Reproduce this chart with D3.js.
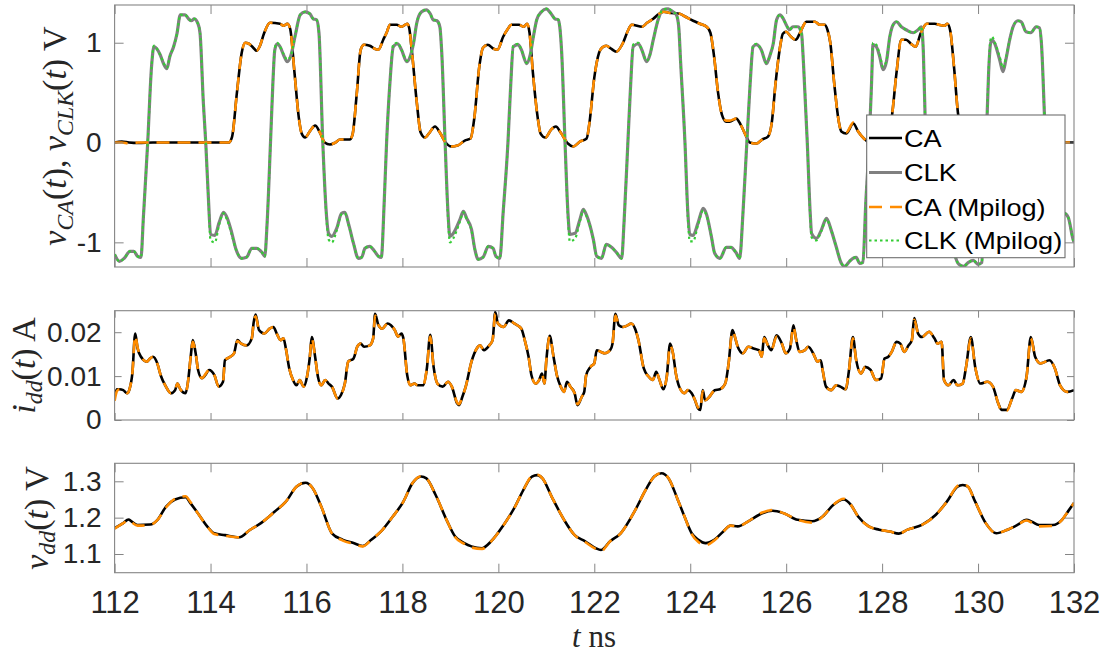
<!DOCTYPE html>
<html><head><meta charset="utf-8">
<script src="https://cdn.jsdelivr.net/npm/d3@7"></script>
<style>body{margin:0;background:#fff}</style>
</head><body><svg id="chart" width="1106" height="654"></svg>
<script>
// ---------------- DATA ----------------
const xTicks = [112,114,116,118,120,122,124,126,128,130,132];
const topTicks = [-1,0,1];
const midTicks = [0,0.01,0.02];
const botTicks = [1.1,1.2,1.3];
const legendLabels = ["CA","CLK","CA (Mpilog)","CLK (Mpilog)"];

// CA voltage (V) vs time (ns)
const caT = [112.0,112.15,112.3,112.5,112.8,113.2,113.6,114.0,114.38,114.45,
 114.55,114.65,114.72,114.8,114.89,114.96,115.03,115.12,115.24,115.45,
 115.52,115.6,115.66,115.75,115.84,115.9,115.97,116.08,116.18,116.28,
 116.38,116.49,116.6,116.7,116.9,116.96,117.05,117.13,117.2,117.32,
 117.42,117.5,117.6,117.67,117.74,117.88,117.98,118.1,118.14,118.2,
 118.3,118.38,118.47,118.55,118.68,118.78,118.9,119.02,119.15,119.3,
 119.42,119.5,119.6,119.68,119.78,119.9,119.98,120.1,120.2,120.27,
 120.43,120.53,120.6,120.65,120.72,120.82,120.88,120.98,121.1,121.2,
 121.3,121.45,121.56,121.7,121.84,121.9,122.0,122.1,122.16,122.25,
 122.35,122.46,122.6,122.7,122.78,123.0,123.1,123.23,123.35,123.45,
 123.55,123.78,123.9,124.06,124.2,124.34,124.42,124.5,124.58,124.66,
 124.75,124.82,124.96,125.05,125.17,125.24,125.38,125.5,125.62,125.7,
 125.78,125.88,125.93,126.0,126.1,126.2,126.28,126.42,126.6,126.7,
 126.8,126.86,126.92,127.0,127.1,127.15,127.25,127.4,127.5,127.62,
 127.75,127.9,128.0,128.1,128.2,128.3,128.4,128.5,128.6,128.7,
 128.8,128.93,129.1,129.18,129.3,129.36,129.42,129.5,129.58,129.66,
 129.75,129.85,129.95,130.05,130.2,130.35,130.5,130.7,131.0,131.4,
 131.8,132.0];
const caV = [0.0,0.01,0.0,-0.005,0.0,0.0,0.0,0.0,0.0,0.06,
 0.5,0.9,1.0,0.99,0.95,0.92,0.97,1.1,1.2,1.19,
 1.17,1.19,1.14,0.7,0.25,0.09,0.05,0.12,0.17,0.1,
 0.0,-0.02,0.0,0.03,0.03,0.08,0.5,0.93,0.98,0.97,
 0.94,0.93,1.03,1.1,1.18,1.18,1.16,1.19,1.15,0.9,
 0.4,0.1,0.05,0.09,0.16,0.1,0.0,-0.04,-0.03,0.02,
 0.04,0.25,0.75,0.95,0.98,0.94,0.93,1.06,1.14,1.18,
 1.18,1.16,1.19,1.1,0.7,0.25,0.09,0.05,0.13,0.16,
 0.1,-0.01,-0.04,0.01,0.04,0.2,0.65,0.9,0.95,0.97,
 0.94,0.91,1.0,1.12,1.18,1.16,1.2,1.24,1.29,1.31,
 1.3,1.29,1.26,1.22,1.19,1.16,1.1,0.85,0.5,0.28,
 0.21,0.21,0.24,0.18,0.06,0.0,-0.01,0.03,0.06,0.2,
 0.6,0.98,1.09,1.11,1.06,1.03,1.09,1.21,1.21,1.18,
 1.18,1.13,1.0,0.6,0.2,0.11,0.09,0.19,0.11,0.04,
 0.0,0.0,0.01,0.05,0.25,0.7,1.03,1.03,0.99,0.96,
 1.09,1.19,1.19,1.18,1.17,1.19,1.12,0.75,0.3,0.1,
 0.05,0.1,0.14,0.08,0.0,-0.02,0.01,0.02,0.0,0.0,
 0.0,0.0];
const caMpilogV = [0.0,0.0,-0.01,0.0,0.0,0.0,0.0,0.0,0.0,0.06,
 0.5,0.9,1.0,0.99,0.95,0.92,0.97,1.1,1.2,1.19,
 1.17,1.19,1.14,0.7,0.25,0.09,0.05,0.12,0.17,0.1,
 0.0,-0.02,0.0,0.03,0.03,0.08,0.5,0.93,0.98,0.97,
 0.94,0.93,1.03,1.1,1.18,1.18,1.16,1.19,1.15,0.9,
 0.4,0.1,0.05,0.09,0.16,0.1,0.0,-0.04,-0.03,0.02,
 0.04,0.25,0.75,0.95,0.98,0.94,0.93,1.06,1.14,1.18,
 1.18,1.16,1.19,1.1,0.7,0.25,0.09,0.05,0.13,0.16,
 0.1,-0.01,-0.04,0.01,0.04,0.2,0.65,0.9,0.95,0.97,
 0.94,0.91,1.0,1.12,1.18,1.16,1.2,1.24,1.29,1.31,
 1.3,1.29,1.26,1.22,1.19,1.16,1.1,0.85,0.5,0.28,
 0.22,0.22,0.24,0.18,0.06,0.0,-0.01,0.03,0.06,0.2,
 0.6,0.98,1.09,1.11,1.06,1.03,1.09,1.21,1.21,1.18,
 1.18,1.13,1.0,0.6,0.2,0.11,0.1,0.2,0.11,0.04,
 0.0,0.0,0.01,0.05,0.25,0.7,1.03,1.03,0.99,0.96,
 1.09,1.19,1.19,1.18,1.17,1.19,1.12,0.75,0.3,0.1,
 0.05,0.1,0.14,0.08,0.0,-0.02,0.01,0.02,0.0,0.0,
 0.0,0.0];

// CLK voltage (V) vs time (ns)
const clkT = [112.0,112.1,112.2,112.32,112.4,112.48,112.55,112.6,112.69,112.77,
 112.82,112.88,112.95,113.03,113.09,113.15,113.23,113.3,113.37,113.47,
 113.54,113.6,113.66,113.73,113.78,113.85,113.9,113.96,114.0,114.09,
 114.18,114.27,114.35,114.44,114.53,114.65,114.75,114.86,114.96,115.07,
 115.13,115.18,115.25,115.3,115.34,115.39,115.45,115.52,115.6,115.68,
 115.76,115.87,115.97,116.07,116.14,116.21,116.26,116.34,116.42,116.46,
 116.53,116.63,116.73,116.8,116.88,116.98,117.08,117.15,117.22,117.32,
 117.42,117.5,117.56,117.62,117.67,117.74,117.81,117.9,117.98,118.09,
 118.16,118.23,118.3,118.4,118.5,118.58,118.64,118.72,118.78,118.82,
 118.89,118.95,118.99,119.06,119.2,119.27,119.34,119.44,119.51,119.58,
 119.68,119.79,119.89,119.95,120.03,120.1,120.2,120.26,120.31,120.41,
 120.48,120.59,120.66,120.73,120.8,120.9,121.0,121.1,121.18,121.25,
 121.28,121.32,121.39,121.45,121.49,121.6,121.7,121.77,121.84,121.98,
 122.05,122.15,122.25,122.36,122.46,122.57,122.62,122.7,122.76,122.81,
 122.92,122.99,123.09,123.16,123.23,123.33,123.43,123.54,123.64,123.71,
 123.76,123.8,123.89,123.95,123.99,124.06,124.16,124.27,124.34,124.44,
 124.51,124.62,124.75,124.85,124.95,125.03,125.1,125.18,125.25,125.31,
 125.38,125.48,125.59,125.66,125.73,125.8,125.87,125.94,126.0,126.07,
 126.14,126.25,126.32,126.36,126.44,126.5,126.53,126.63,126.73,126.84,
 126.94,127.04,127.15,127.22,127.32,127.39,127.46,127.53,127.6,127.66,
 127.73,127.78,127.81,127.88,127.95,128.02,128.09,128.16,128.23,128.3,
 128.4,128.5,128.65,128.75,128.82,128.86,128.91,128.98,129.03,129.1,
 129.2,129.3,129.4,129.5,129.6,129.7,129.8,129.9,130.0,130.08,
 130.12,130.17,130.22,130.26,130.29,130.35,130.45,130.52,130.58,130.66,
 130.73,130.83,130.9,131.0,131.1,131.21,131.28,131.32,131.39,131.45,
 131.5,131.6,131.7,131.8,131.88,131.98,132.0];
const clkV = [-1.12,-1.19,-1.16,-1.09,-1.09,-1.14,-1.15,-0.75,0.0,0.76,
 0.96,0.94,0.88,0.78,0.74,0.86,0.96,1.09,1.28,1.28,
 1.24,1.22,1.24,1.2,1.1,0.4,0.0,-0.6,-0.92,-0.93,
 -0.8,-0.7,-0.76,-0.9,-1.07,-1.16,-1.15,-1.06,-1.06,-1.1,
 -1.14,-0.8,0.0,0.6,0.93,0.99,0.96,0.88,0.81,0.88,
 1.06,1.28,1.31,1.29,1.24,1.23,1.1,0.0,-0.75,-0.91,
 -0.94,-0.86,-0.71,-0.7,-0.82,-1.01,-1.16,-1.15,-1.06,-1.04,
 -1.09,-1.14,-1.15,-0.6,0.0,0.6,0.96,0.99,0.93,0.81,
 0.86,0.99,1.2,1.31,1.33,1.29,1.23,1.22,1.16,0.9,
 0.0,-0.7,-0.94,-0.91,-0.77,-0.69,-0.76,-0.87,-1.07,-1.17,
 -1.15,-1.04,-1.06,-1.14,-1.16,-0.7,0.0,0.6,0.96,0.98,
 0.93,0.79,0.87,1.06,1.23,1.31,1.34,1.29,1.24,1.23,
 1.16,0.9,0.0,-0.7,-0.92,-0.91,-0.77,-0.67,-0.73,-0.97,
 -1.14,-1.16,-1.02,-1.05,-1.1,-1.16,-0.8,0.0,0.6,0.96,
 0.99,0.93,0.81,0.88,1.03,1.23,1.33,1.34,1.31,1.28,
 1.16,0.8,0.0,-0.7,-0.92,-0.93,-0.81,-0.66,-0.72,-0.94,
 -1.11,-1.16,-1.05,-1.05,-1.1,-1.16,-0.7,0.0,0.6,0.96,
 0.98,0.93,0.79,0.87,0.99,1.23,1.28,1.24,1.18,1.13,
 1.16,1.16,1.09,0.8,0.0,-0.7,-0.91,-0.96,-0.88,-0.76,
 -0.88,-1.04,-1.21,-1.24,-1.19,-1.16,-1.15,-1.21,-1.2,-0.6,
 0.0,0.6,0.98,0.96,0.86,0.73,0.81,1.06,1.18,1.21,
 1.16,1.13,1.1,1.13,1.16,0.9,0.0,-0.7,-0.92,-0.93,
 -0.8,-0.7,-0.85,-1.1,-1.22,-1.24,-1.2,-1.18,-1.22,-1.2,
 -0.5,0.0,0.7,0.99,1.03,0.99,0.83,0.71,0.83,1.03,
 1.16,1.22,1.21,1.11,1.1,1.16,1.15,1.0,0.2,-0.5,
 -0.9,-0.95,-0.85,-0.71,-0.75,-0.97,-1.0];
const clkMpilogV = [-1.12,-1.19,-1.16,-1.09,-1.09,-1.14,-1.15,-0.75,0.0,0.76,
 0.97,0.94,0.88,0.79,0.75,0.86,0.96,1.09,1.28,1.28,
 1.24,1.22,1.24,1.2,1.1,0.4,0.0,-0.62,-0.98,-1.0,
 -0.82,-0.71,-0.78,-0.92,-1.07,-1.16,-1.15,-1.06,-1.06,-1.1,
 -1.14,-0.8,0.0,0.6,0.95,1.0,0.96,0.89,0.83,0.88,
 1.06,1.28,1.31,1.29,1.24,1.23,1.1,0.0,-0.78,-0.97,
 -1.0,-0.88,-0.72,-0.71,-0.83,-1.01,-1.16,-1.15,-1.06,-1.04,
 -1.09,-1.14,-1.15,-0.6,0.0,0.6,0.98,1.0,0.93,0.82,
 0.86,0.99,1.2,1.31,1.33,1.29,1.23,1.22,1.16,0.9,
 0.0,-0.75,-1.0,-0.96,-0.79,-0.7,-0.77,-0.88,-1.07,-1.17,
 -1.15,-1.04,-1.06,-1.14,-1.16,-0.7,0.0,0.6,0.97,0.99,
 0.93,0.8,0.87,1.06,1.23,1.31,1.34,1.29,1.24,1.23,
 1.16,0.9,0.0,-0.75,-0.99,-0.96,-0.79,-0.68,-0.74,-0.97,
 -1.14,-1.16,-1.02,-1.05,-1.1,-1.16,-0.8,0.0,0.6,0.98,
 1.0,0.93,0.82,0.88,1.03,1.23,1.33,1.34,1.31,1.28,
 1.16,0.8,0.0,-0.75,-0.99,-0.99,-0.83,-0.68,-0.73,-0.94,
 -1.11,-1.16,-1.05,-1.05,-1.1,-1.16,-0.7,0.0,0.6,0.97,
 0.99,0.93,0.8,0.87,0.99,1.23,1.28,1.24,1.18,1.13,
 1.16,1.16,1.09,0.8,0.0,-0.73,-0.95,-0.98,-0.89,-0.77,
 -0.88,-1.04,-1.21,-1.24,-1.19,-1.16,-1.15,-1.21,-1.2,-0.6,
 0.0,0.6,1.0,0.98,0.88,0.76,0.82,1.06,1.18,1.21,
 1.16,1.13,1.1,1.13,1.16,0.9,0.0,-0.72,-0.96,-0.97,
 -0.81,-0.71,-0.86,-1.1,-1.22,-1.24,-1.2,-1.18,-1.22,-1.2,
 -0.5,0.0,0.72,1.03,1.06,1.0,0.86,0.75,0.85,1.03,
 1.16,1.22,1.21,1.11,1.1,1.16,1.15,1.0,0.2,-0.5,
 -0.9,-0.95,-0.85,-0.71,-0.75,-0.97,-1.0];

// Supply current i_dd (A) vs time (ns)
const iddT = [112.0,112.05,112.1,112.18,112.26,112.31,112.37,112.43,112.48,112.55,
 112.67,112.74,112.8,112.89,112.96,113.07,113.17,113.26,113.31,113.37,
 113.48,113.53,113.59,113.63,113.69,113.74,113.82,113.89,113.97,114.08,
 114.17,114.26,114.3,114.41,114.49,114.56,114.64,114.75,114.86,114.9,
 114.94,115.01,115.12,115.23,115.31,115.38,115.46,115.52,115.57,115.64,
 115.72,115.79,115.86,115.94,116.01,116.07,116.11,116.18,116.24,116.31,
 116.39,116.46,116.53,116.65,116.72,116.8,116.87,116.98,117.06,117.13,
 117.2,117.32,117.39,117.43,117.5,117.58,117.69,117.76,117.84,117.91,
 117.98,118.02,118.1,118.17,118.25,118.32,118.43,118.51,118.58,118.65,
 118.73,118.84,118.95,119.03,119.14,119.18,119.25,119.32,119.44,119.55,
 119.62,119.7,119.81,119.88,119.935,119.99,120.11,120.22,120.33,120.48,
 120.55,120.63,120.69,120.78,120.85,120.91,120.96,121.0,121.07,121.15,
 121.22,121.3,121.37,121.43,121.5,121.59,121.65,121.74,121.79,121.83,
 121.92,122.0,122.05,122.14,122.22,122.33,122.38,122.44,122.51,122.59,
 122.7,122.77,122.85,122.92,123.03,123.14,123.22,123.29,123.36,123.44,
 123.51,123.58,123.64,123.7,123.77,123.88,123.95,124.03,124.1,124.16,
 124.21,124.26,124.31,124.4,124.51,124.62,124.73,124.8,124.88,124.91,
 124.99,125.1,125.21,125.32,125.43,125.49,125.54,125.62,125.69,125.8,
 125.91,125.99,126.08,126.15,126.21,126.28,126.39,126.46,126.58,126.65,
 126.72,126.76,126.83,126.94,127.04,127.13,127.24,127.31,127.39,127.46,
 127.56,127.65,127.76,127.87,127.98,128.05,128.13,128.2,128.3,128.38,
 128.46,128.55,128.62,128.67,128.75,128.83,128.98,129.09,129.16,129.24,
 129.29,129.38,129.49,129.57,129.68,129.75,129.85,129.94,130.05,130.19,
 130.31,130.42,130.49,130.6,130.71,130.79,130.9,131.01,131.1,131.19,
 131.3,131.49,131.6,131.71,131.86,132.0];
const iddV = [.0055,.0070,.0070,.0068,.0061,.0070,.0106,.0197,.0163,.0144,
 .0133,.0140,.0144,.0129,.0102,.0076,.0061,.0068,.0083,.0070,
 .0061,.0087,.0148,.0182,.0152,.0114,.0095,.0102,.0114,.0102,
 .0076,.0087,.0136,.0144,.0152,.0182,.0174,.0170,.0186,.0223,
 .0240,.0205,.0197,.0208,.0212,.0197,.0182,.0186,.0163,.0118,
 .0091,.0079,.0091,.0076,.0098,.0144,.0189,.0144,.0098,.0079,
 .0091,.0083,.0076,.0049,.0057,.0083,.0133,.0140,.0167,.0174,
 .0167,.0170,.0186,.0242,.0216,.0208,.0220,.0216,.0205,.0190,
 .0197,.0186,.0102,.0079,.0083,.0079,.0079,.0118,.0194,.0121,
 .0083,.0076,.0087,.0076,.0038,.0034,.0053,.0076,.0133,.0163,
 .0170,.0159,.0170,.0182,.0246,.0220,.0212,.0227,.0220,.0208,
 .0182,.0144,.0102,.0083,.0091,.0106,.0083,.0136,.0192,.0144,
 .0102,.0076,.0064,.0087,.0076,.0061,.0034,.0053,.0064,.0102,
 .0121,.0129,.0159,.0155,.0152,.0159,.0174,.0242,.0216,.0212,
 .0216,.0220,.0208,.0182,.0118,.0098,.0091,.0110,.0091,.0070,
 .0098,.0174,.0152,.0106,.0076,.0061,.0068,.0061,.0045,.0027,
 .0023,.0068,.0045,.0053,.0068,.0070,.0083,.0129,.0205,.0197,
 .0167,.0152,.0167,.0163,.0159,.0144,.0189,.0170,.0159,.0193,
 .0174,.0152,.0163,.0216,.0182,.0155,.0159,.0167,.0148,.0133,
 .0136,.0114,.0076,.0068,.0079,.0076,.0070,.0114,.0189,.0136,
 .0106,.0121,.0114,.0091,.0095,.0140,.0144,.0155,.0178,.0174,
 .0155,.0170,.0182,.0232,.0197,.0189,.0201,.0186,.0174,.0178,
 .0091,.0079,.0091,.0079,.0083,.0121,.0189,.0121,.0083,.0087,
 .0076,.0038,.0023,.0023,.0049,.0068,.0064,.0098,.0189,.0144,
 .0129,.0136,.0118,.0079,.0064,.0068];
const iddMpilogV = [.0044,.0066,.0070,.0068,.0061,.0070,.0106,.0192,.0165,.0144,
 .0133,.0140,.0144,.0129,.0102,.0076,.0061,.0068,.0083,.0070,
 .0061,.0087,.0148,.0178,.0152,.0114,.0095,.0104,.0114,.0102,
 .0076,.0087,.0136,.0144,.0152,.0180,.0174,.0170,.0186,.0223,
 .0236,.0205,.0197,.0208,.0212,.0197,.0182,.0186,.0163,.0118,
 .0091,.0079,.0091,.0076,.0098,.0144,.0186,.0144,.0098,.0079,
 .0091,.0083,.0076,.0049,.0057,.0083,.0133,.0140,.0167,.0174,
 .0167,.0170,.0186,.0238,.0216,.0208,.0220,.0216,.0205,.0190,
 .0197,.0186,.0102,.0079,.0083,.0079,.0079,.0118,.0190,.0121,
 .0083,.0076,.0087,.0076,.0040,.0036,.0053,.0076,.0133,.0163,
 .0170,.0159,.0170,.0182,.0242,.0220,.0212,.0227,.0220,.0208,
 .0182,.0144,.0102,.0083,.0091,.0106,.0083,.0136,.0190,.0144,
 .0102,.0076,.0064,.0087,.0076,.0061,.0036,.0053,.0064,.0102,
 .0121,.0129,.0159,.0155,.0152,.0159,.0174,.0238,.0216,.0212,
 .0216,.0220,.0208,.0182,.0118,.0098,.0091,.0110,.0091,.0070,
 .0098,.0170,.0152,.0106,.0076,.0061,.0068,.0061,.0045,.0029,
 .0025,.0066,.0045,.0053,.0068,.0070,.0083,.0129,.0202,.0197,
 .0167,.0152,.0167,.0163,.0159,.0144,.0186,.0170,.0159,.0190,
 .0174,.0152,.0163,.0212,.0182,.0155,.0159,.0167,.0148,.0133,
 .0136,.0114,.0076,.0068,.0079,.0076,.0070,.0114,.0186,.0136,
 .0106,.0121,.0114,.0091,.0095,.0140,.0144,.0155,.0178,.0174,
 .0155,.0170,.0182,.0228,.0197,.0189,.0201,.0186,.0174,.0178,
 .0091,.0079,.0091,.0079,.0083,.0121,.0186,.0121,.0083,.0087,
 .0076,.0038,.0021,.0021,.0049,.0068,.0064,.0098,.0186,.0144,
 .0129,.0136,.0118,.0079,.0064,.0068];

// Supply voltage v_dd (V) vs time (ns)
const vddT = [112.0,112.18,112.29,112.35,112.48,112.74,112.89,113.07,113.26,113.48,
 113.58,113.71,113.93,114.08,114.3,114.6,114.82,115.05,115.34,115.57,
 115.79,115.98,116.13,116.31,116.53,116.76,116.98,117.17,117.35,117.58,
 117.8,118.02,118.21,118.39,118.5,118.69,118.92,119.1,119.29,119.44,
 119.66,119.85,120.11,120.33,120.52,120.7,120.81,120.92,121.11,121.37,
 121.59,121.81,122.03,122.14,122.33,122.55,122.85,123.07,123.25,123.4,
 123.55,123.73,123.88,124.03,124.17,124.32,124.5,124.69,124.84,124.99,
 125.21,125.5,125.72,125.95,126.24,126.54,126.76,126.98,127.2,127.35,
 127.5,127.72,127.94,128.16,128.35,128.53,128.83,129.12,129.35,129.57,
 129.68,129.79,129.94,130.16,130.38,130.6,130.82,131.01,131.12,131.27,
 131.56,131.75,131.89,132.0];
const vddV = [1.171,1.185,1.195,1.19,1.18,1.181,1.193,1.23,1.25,1.256,
 1.24,1.217,1.176,1.157,1.152,1.146,1.166,1.185,1.217,1.244,
 1.285,1.296,1.281,1.23,1.157,1.139,1.13,1.122,1.139,1.166,
 1.203,1.244,1.295,1.313,1.308,1.263,1.194,1.148,1.13,1.121,
 1.116,1.135,1.18,1.226,1.276,1.313,1.317,1.308,1.258,1.194,
 1.152,1.135,1.116,1.111,1.135,1.157,1.22,1.276,1.313,1.322,
 1.308,1.253,1.203,1.157,1.139,1.13,1.139,1.162,1.178,1.176,
 1.19,1.212,1.219,1.212,1.194,1.19,1.203,1.235,1.25,1.235,
 1.203,1.176,1.167,1.162,1.156,1.167,1.18,1.208,1.244,1.285,
 1.29,1.285,1.244,1.185,1.157,1.166,1.18,1.194,1.189,1.18,
 1.18,1.194,1.22,1.24];
const vddMpilogV = [1.17,1.185,1.193,1.188,1.178,1.18,1.193,1.228,1.252,1.259,
 1.243,1.217,1.176,1.155,1.15,1.146,1.166,1.185,1.217,1.244,
 1.285,1.297,1.281,1.23,1.157,1.137,1.128,1.121,1.139,1.166,
 1.203,1.244,1.295,1.314,1.308,1.263,1.194,1.146,1.128,1.118,
 1.114,1.135,1.18,1.226,1.276,1.314,1.318,1.308,1.258,1.194,
 1.152,1.133,1.114,1.108,1.135,1.157,1.22,1.276,1.313,1.323,
 1.308,1.253,1.203,1.155,1.133,1.124,1.137,1.162,1.178,1.176,
 1.19,1.214,1.221,1.212,1.194,1.186,1.203,1.235,1.252,1.235,
 1.203,1.176,1.167,1.162,1.156,1.167,1.18,1.208,1.244,1.287,
 1.292,1.285,1.244,1.185,1.157,1.166,1.18,1.192,1.186,1.176,
 1.177,1.194,1.22,1.24];

// ---------------- CHECKS ----------------
[[caT,caV],[caT,caMpilogV],[clkT,clkV],[clkT,clkMpilogV],[iddT,iddV],[iddT,iddMpilogV],[vddT,vddV],[vddT,vddMpilogV]]
 .forEach(([a,b],i)=>{ if(a.length!==b.length) throw new Error("length mismatch series "+i+": "+a.length+" vs "+b.length); });

// ---------------- DRAW ----------------
const svg = d3.select("#chart");
svg.append("rect").attr("width",1106).attr("height",654).attr("fill","#fff");
const LEFT = 114.6, RIGHT = 1074;
const x = d3.scaleLinear().domain([112,132]).range([LEFT, RIGHT]);
const AX = "#858585", TXT = "#262626";
const sans = "'Liberation Sans', Arial, Helvetica, sans-serif";
const serif = "'Liberation Serif', 'DejaVu Serif', serif";

const COL = {ca:"#000000", clk:"#808080", caM:"#ff8c00", clkM:"#33cc33"};

const panels = [
  {id:"top", top:5, bottom:267, domain:[-1.247,1.378], ticks:topTicks, fmt:d=>String(d), tick:9},
  {id:"mid", top:310.7, bottom:420, domain:[0,0.0249], ticks:midTicks, fmt:d=>d===0?"0":d3.format(".2f")(d), tick:7},
  {id:"bot", top:463.3, bottom:572.7, domain:[1.0486,1.3495], ticks:botTicks, fmt:d3.format(".1f"), tick:9}
];
panels.forEach(p=>{ p.y = d3.scaleLinear().domain(p.domain).range([p.bottom,p.top]); });

function zip(T,V){ return T.map((t,i)=>[t,V[i]]); }

function drawSeries(p, T, V, color, width, dash){
  const line = d3.line().x(d=>x(d[0])).y(d=>p.y(d[1])).curve(d3.curveMonotoneX);
  p.g.append("path").datum(zip(T,V))
    .attr("d", line).attr("fill","none").attr("stroke",color)
    .attr("stroke-width",width).attr("stroke-linejoin","round")
    .attr("stroke-dasharray", dash || null);
}

panels.forEach(p=>{
  const defs = svg.append("defs");
  defs.append("clipPath").attr("id","clip-"+p.id).append("rect")
    .attr("x",LEFT).attr("y",p.top).attr("width",RIGHT-LEFT).attr("height",p.bottom-p.top);
  p.g = svg.append("g").attr("clip-path","url(#clip-"+p.id+")");
});

const DASH = "13,8", DOT = "2.5,3";
// top panel
drawSeries(panels[0], caT, caV, COL.ca, 2.6);
drawSeries(panels[0], clkT, clkV, COL.clk, 3.2);
drawSeries(panels[0], caT, caMpilogV, COL.caM, 2.6, DASH);
drawSeries(panels[0], clkT, clkMpilogV, COL.clkM, 2.2, DOT);
// middle
drawSeries(panels[1], iddT, iddV, COL.ca, 2.6);
drawSeries(panels[1], iddT, iddMpilogV, COL.caM, 2.6, DASH);
// bottom
drawSeries(panels[2], vddT, vddV, COL.ca, 2.6);
drawSeries(panels[2], vddT, vddMpilogV, COL.caM, 2.6, DASH);

// axes
panels.forEach((p,i)=>{
  const g = svg.append("g");
  const styleAxis = sel => {
    sel.select(".domain").remove();
    sel.selectAll(".tick line").attr("stroke",AX).attr("stroke-width",1);
    sel.selectAll(".tick text").attr("fill",TXT).style("font-family",sans);
  };
  g.append("g").attr("transform",`translate(${LEFT},0)`)
    .call(d3.axisLeft(p.y).tickValues(p.ticks).tickSize(-p.tick).tickPadding(13).tickFormat(p.fmt))
    .call(styleAxis).call(s=>s.selectAll(".tick text").style("font-size","28px"));
  g.append("g").attr("transform",`translate(${RIGHT},0)`)
    .call(d3.axisRight(p.y).tickValues(p.ticks).tickSize(-p.tick).tickFormat(""))
    .call(styleAxis);
  g.append("g").attr("transform",`translate(0,${p.top})`)
    .call(d3.axisTop(x).tickValues(xTicks).tickSize(-p.tick).tickFormat(""))
    .call(styleAxis);
  const bx = d3.axisBottom(x).tickValues(xTicks).tickSize(-p.tick);
  if (i===2) bx.tickPadding(18.5).tickFormat(d3.format("d")); else bx.tickFormat("");
  g.append("g").attr("transform",`translate(0,${p.bottom})`)
    .call(bx).call(styleAxis).call(s=>s.selectAll(".tick text").style("font-size","31px"));
  g.append("rect").attr("x",LEFT).attr("y",p.top).attr("width",RIGHT-LEFT).attr("height",p.bottom-p.top)
    .attr("fill","none").attr("stroke",AX).attr("stroke-width",1.1);
});

// axis titles (LaTeX-like)
function mathLabel(parent, parts, size){
  const t = parent.append("text").attr("fill",TXT).style("font-family",serif).style("font-size",size+"px");
  let shift = 0;
  parts.forEach(pt=>{
    const sp = t.append("tspan").text(pt.s);
    if (pt.i) sp.style("font-style","italic");
    const want = pt.sub ? Math.round(size*0.22) : 0;
    if (want!==shift){ sp.attr("dy", want-shift); shift = want; }
    if (pt.sub) sp.style("font-size",(size*0.7)+"px");
  });
  return t;
}
const lblTop = [{s:"v",i:1},{s:"CA",i:1,sub:1},{s:"("},{s:"t",i:1},{s:"), "},{s:"v",i:1},{s:"CLK",i:1,sub:1},{s:"("},{s:"t",i:1},{s:")  V"}];
const lblMid = [{s:"i",i:1},{s:"dd",i:1,sub:1},{s:"("},{s:"t",i:1},{s:")  A"}];
const lblBot = [{s:"v",i:1},{s:"dd",i:1,sub:1},{s:"("},{s:"t",i:1},{s:")  V"}];
[[lblTop,66,136],[lblMid,35,365.4],[lblBot,48,518]].forEach(([parts,bx,cy])=>{
  const g = svg.append("g").attr("transform",`translate(${bx},${cy}) rotate(-90)`);
  mathLabel(g, parts, 34).attr("text-anchor","middle");
});
const xl = svg.append("g").attr("transform","translate(594,647)");
mathLabel(xl, [{s:"t",i:1},{s:" ns"}], 31).attr("text-anchor","middle");

// legend
const leg = svg.append("g");
leg.append("rect").attr("x",866.7).attr("y",115).attr("width",198.3).attr("height",142.7)
  .attr("fill","#fff").attr("stroke","#6f6f6f").attr("stroke-width",1.1);
const legStyles = [
  {c:COL.ca,w:2.6,d:null},{c:COL.clk,w:3.2,d:null},{c:COL.caM,w:2.6,d:DASH},{c:COL.clkM,w:2.2,d:DOT}
];
const legY = [138,172.5,207,240.5];
legendLabels.forEach((lab,i)=>{
  const st = legStyles[i];
  leg.append("line").attr("x1",869).attr("x2",902).attr("y1",legY[i]).attr("y2",legY[i])
    .attr("stroke",st.c).attr("stroke-width",st.w).attr("stroke-dasharray",st.d);
  leg.append("text").attr("transform",`translate(904,${legY[i]+8.5}) scale(1.13,1)`)
    .attr("fill","#000").style("font-family",sans).style("font-size","24px").text(lab);
});
</script>
</body></html>
